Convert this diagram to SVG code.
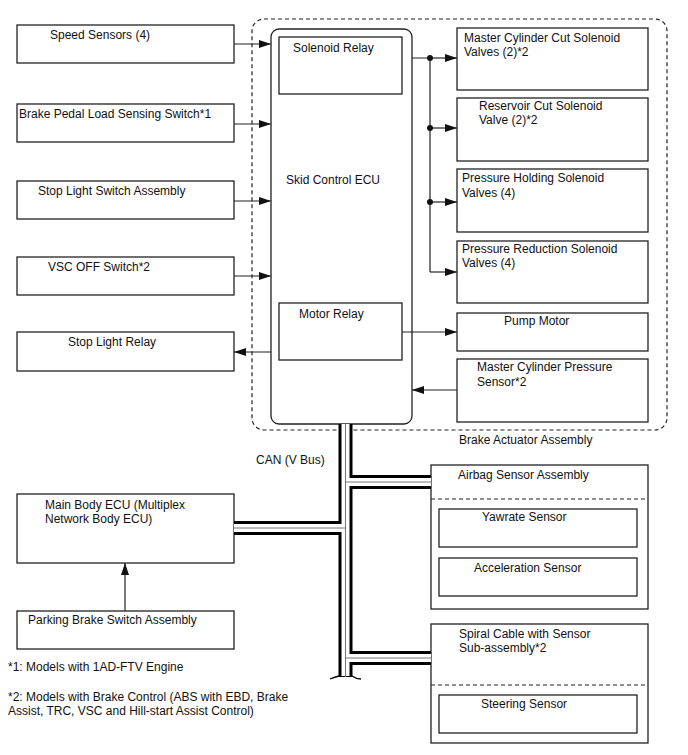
<svg xmlns="http://www.w3.org/2000/svg" width="688" height="755" viewBox="0 0 688 755">
<style>
text{font-family:"Liberation Sans",Arial,sans-serif;font-size:12px;fill:#111}
.b{fill:#fff;stroke:#222;stroke-width:1.3}
.n{fill:none;stroke:#222;stroke-width:1.3}
.d{fill:none;stroke:#222;stroke-width:1.2;stroke-dasharray:4 3}
.c{fill:none;stroke:#222;stroke-width:1.2}
.bk{fill:none;stroke:#000;stroke-width:14}
.wh{fill:none;stroke:#fff;stroke-width:8}
.gr{fill:none;stroke:#777;stroke-width:1}
</style>
<defs>
<marker id="ar" viewBox="0 0 12 8" refX="12" refY="4" markerWidth="12" markerHeight="8" markerUnits="userSpaceOnUse" orient="auto">
<path d="M0,0 L12,4 L0,8 Z" fill="#111"/>
</marker>
</defs>
<rect width="688" height="755" fill="#fff"/>

<g id="brake-actuator-assembly">
<rect x="252" y="19" width="415" height="411" rx="12" class="d"/>
<text x="459" y="444">Brake Actuator Assembly</text>
</g>

<g id="skid-control-ecu">
<rect x="271" y="29" width="141" height="395" rx="8" class="b"/>
<text x="286" y="184">Skid Control ECU</text>
</g>
<g id="solenoid-relay">
<rect x="279" y="37" width="123" height="57" class="b"/>
<text x="293" y="52">Solenoid Relay</text>
</g>
<g id="motor-relay">
<rect x="279" y="303" width="123" height="57" class="b"/>
<text x="299" y="318">Motor Relay</text>
</g>

<g id="speed-sensors">
<rect x="17" y="25" width="217" height="38" class="b"/>
<text x="50" y="39">Speed Sensors (4)</text>
</g>
<g id="brake-pedal-switch">
<rect x="17" y="104" width="217" height="38" class="b"/>
<text x="19" y="118">Brake Pedal Load Sensing Switch*1</text>
</g>
<g id="stop-light-switch">
<rect x="17" y="181" width="217" height="38" class="b"/>
<text x="38" y="195">Stop Light Switch Assembly</text>
</g>
<g id="vsc-off-switch">
<rect x="17" y="257" width="217" height="38" class="b"/>
<text x="48" y="271">VSC OFF Switch*2</text>
</g>
<g id="stop-light-relay">
<rect x="17" y="332" width="217" height="39" class="b"/>
<text x="68" y="346">Stop Light Relay</text>
</g>

<g id="master-cylinder-cut">
<rect x="457" y="28" width="191" height="62" class="b"/>
<text x="464" y="42">Master Cylinder Cut Solenoid</text>
<text x="464" y="56">Valves (2)*2</text>
</g>
<g id="reservoir-cut">
<rect x="457" y="98" width="191" height="63" class="b"/>
<text x="479" y="110">Reservoir Cut Solenoid</text>
<text x="479" y="124">Valve (2)*2</text>
</g>
<g id="pressure-holding">
<rect x="457" y="169" width="191" height="63" class="b"/>
<text x="462" y="182">Pressure Holding Solenoid</text>
<text x="462" y="197">Valves (4)</text>
</g>
<g id="pressure-reduction">
<rect x="457" y="241" width="191" height="62" class="b"/>
<text x="462" y="253">Pressure Reduction Solenoid</text>
<text x="462" y="267">Valves (4)</text>
</g>
<g id="pump-motor">
<rect x="457" y="313" width="191" height="38" class="b"/>
<text x="504" y="325">Pump Motor</text>
</g>
<g id="master-cylinder-pressure-sensor">
<rect x="457" y="359" width="191" height="63" class="b"/>
<text x="477" y="371">Master Cylinder Pressure</text>
<text x="477" y="386">Sensor*2</text>
</g>

<g id="main-body-ecu">
<rect x="17" y="494" width="217" height="69" class="b"/>
<text x="45" y="509">Main Body ECU (Multiplex</text>
<text x="45" y="523">Network Body ECU)</text>
</g>
<g id="parking-brake-switch">
<rect x="17" y="611" width="217" height="38" class="b"/>
<text x="28" y="624">Parking Brake Switch Assembly</text>
</g>

<g id="airbag-sensor-assembly">
<rect x="431" y="465" width="217" height="144" class="b"/>
<line x1="431" y1="499" x2="648" y2="499" class="d"/>
<text x="458" y="479">Airbag Sensor Assembly</text>
</g>
<g id="yawrate-sensor">
<rect x="439" y="509" width="198" height="38" class="b"/>
<text x="482" y="521">Yawrate Sensor</text>
</g>
<g id="acceleration-sensor">
<rect x="439" y="558" width="198" height="38" class="b"/>
<text x="474" y="572">Acceleration Sensor</text>
</g>

<g id="spiral-cable">
<rect x="431" y="624" width="217" height="119" class="b"/>
<line x1="431" y1="685" x2="648" y2="685" class="d"/>
<text x="459" y="638">Spiral Cable with Sensor</text>
<text x="459" y="652">Sub-assembly*2</text>
</g>
<g id="steering-sensor">
<rect x="439" y="695" width="198" height="38" class="b"/>
<text x="481" y="708">Steering Sensor</text>
</g>

<g id="notes">
<text x="8" y="671">*1: Models with 1AD-FTV Engine</text>
<text x="8" y="701">*2: Models with Brake Control (ABS with EBD, Brake</text>
<text x="8" y="715">Assist, TRC, VSC and Hill-start Assist Control)</text>
<text x="256" y="464">CAN (V Bus)</text>
</g>

<g id="connectors">
<line x1="234" y1="44" x2="271" y2="44" class="c" marker-end="url(#ar)"/>
<line x1="234" y1="124" x2="271" y2="124" class="c" marker-end="url(#ar)"/>
<line x1="234" y1="201" x2="271" y2="201" class="c" marker-end="url(#ar)"/>
<line x1="234" y1="276" x2="271" y2="276" class="c" marker-end="url(#ar)"/>
<line x1="271" y1="352" x2="234" y2="352" class="c" marker-end="url(#ar)"/>
<polyline points="412,58 430,58 430,272" class="c"/>
<line x1="430" y1="58" x2="457" y2="58" class="c" marker-end="url(#ar)"/>
<line x1="430" y1="128" x2="457" y2="128" class="c" marker-end="url(#ar)"/>
<line x1="430" y1="202" x2="457" y2="202" class="c" marker-end="url(#ar)"/>
<line x1="430" y1="272" x2="457" y2="272" class="c" marker-end="url(#ar)"/>
<circle cx="430" cy="58" r="3" fill="#111"/>
<circle cx="430" cy="128" r="3" fill="#111"/>
<circle cx="430" cy="202" r="3" fill="#111"/>
<line x1="402" y1="332" x2="457" y2="332" class="c" marker-end="url(#ar)"/>
<line x1="457" y1="390" x2="412" y2="390" class="c" marker-end="url(#ar)"/>
<line x1="125" y1="611" x2="125" y2="563" class="c" marker-end="url(#ar)"/>
<g id="can-bus">
<path d="M345.5,424 V677 M234,528 H345.5 M345.5,482 H431 M345.5,658 H431" class="bk"/>
<path d="M345.5,424 V676 M234,528 H345.5 M345.5,482 H431 M345.5,658 H431" class="wh"/>
<path d="M345.5,424 V677 M234,528 H345.5 M345.5,482 H431 M345.5,658 H431" class="gr"/>
<path d="M330,679 Q335,677 339,676 M352,676 Q356,679 361,679" fill="none" stroke="#000" stroke-width="1.3"/>
</g>
</g>
</svg>
